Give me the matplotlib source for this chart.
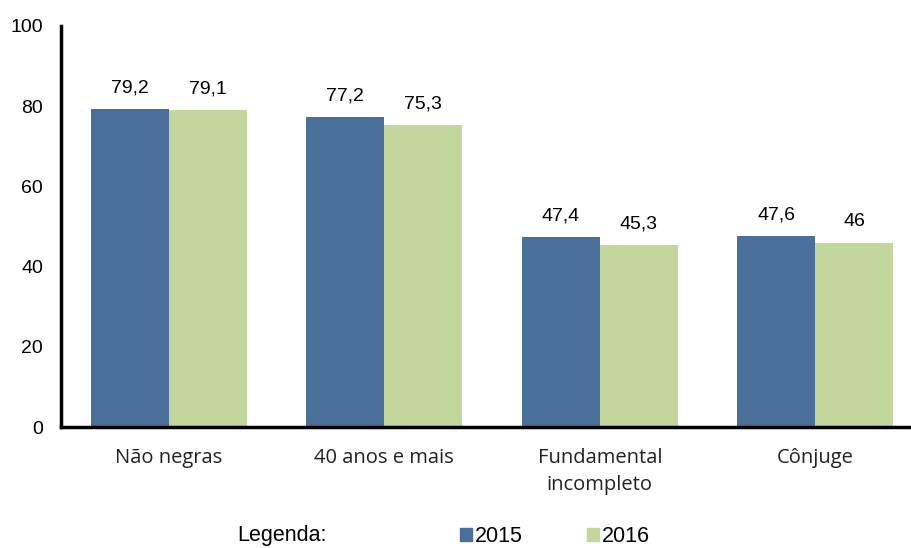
import matplotlib
matplotlib.use("Agg")
import matplotlib.pyplot as plt
from matplotlib.patches import Patch
import numpy as np

categories = ["Não negras", "40 anos e mais", "Fundamental\nincompleto", "Cônjuge"]
values_2015 = [79.2, 77.2, 47.4, 47.6]
values_2016 = [79.1, 75.3, 45.3, 46.0]
labels_2015 = ["79,2", "77,2", "47,4", "47,6"]
labels_2016 = ["79,1", "75,3", "45,3", "46"]
series_names = ["2015", "2016"]

blue = "#4B6F9B"
green = "#C3D69B"

fig = plt.figure(figsize=(9.11, 5.48), dpi=100)
ax = fig.add_axes([61 / 911, 1 - 427 / 548, 850 / 911, 401 / 548])

x = np.arange(len(categories))
w = 0.362
b1 = ax.bar(x - w / 2, values_2015, w, color=blue)
b2 = ax.bar(x + w / 2, values_2016, w, color=green)

for bars, labs in ((b1, labels_2015), (b2, labels_2016)):
    for bar, lab in zip(bars, labs):
        ax.annotate(lab, (bar.get_x() + bar.get_width() / 2, bar.get_height()),
                    xytext=(0, 9), textcoords="offset points", ha="center", va="bottom",
                    fontsize=14, family="Liberation Sans")

ax.set_ylim(0, 100)
ax.set_xlim(-0.5, 850 / 215.5 - 0.5)
ax.set_yticks(range(0, 101, 20))
ax.set_yticklabels([str(v) for v in range(0, 101, 20)], family="Liberation Sans", fontsize=14)
ax.set_xticks(x)
ax.set_xticklabels(categories, family="Open Sans", fontsize=14.5, color="#222222", linespacing=1.5)
ax.tick_params(axis="both", length=0)
ax.tick_params(axis="y", pad=13)
ax.tick_params(axis="x", pad=15)
for s in ("top", "right"):
    ax.spines[s].set_visible(False)
for s in ("left", "bottom"):
    ax.spines[s].set_linewidth(2.5)
    ax.spines[s].set_color("black")

fig.text(237 / 911, 1 - 535 / 548, "Legenda:", family="Liberation Sans", fontsize=15.5, va="center")
handles = [Patch(color=blue), Patch(color=green)]
fig.legend(handles, series_names, loc="center left", bbox_to_anchor=(449 / 911, 1 - 537 / 548),
           ncol=2, frameon=False, handlelength=0.55, handleheight=0.55, handletextpad=0.15,
           columnspacing=3.0, borderpad=0, prop={"family": "Liberation Sans", "size": 15.5})

fig.savefig("out.png", dpi=100)
